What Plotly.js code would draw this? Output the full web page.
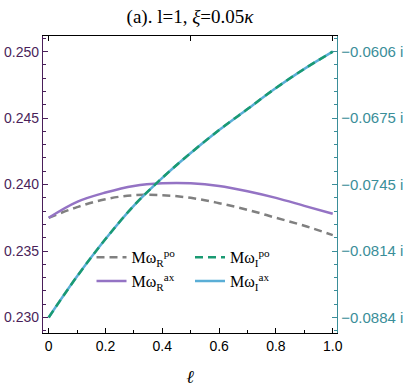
<!DOCTYPE html>
<html>
<head>
<meta charset="utf-8">
<script src="https://cdn.plot.ly/plotly-3.0.1.min.js"></script>
<style>
  html, body { margin: 0; padding: 0; background: #fff; }
  #plot { width: 407px; height: 390px; }
</style>
</head>
<body>
<div id="plot"></div>
<script>
// x values (ell)
var ell = [0, 0.1, 0.2, 0.3, 0.4, 0.5, 0.6, 0.7, 0.8, 0.9, 1.0];

// real parts (left axis)
var rePo = [0.2375, 0.2383, 0.2389, 0.2392, 0.2392, 0.2390, 0.2386, 0.2381, 0.2375, 0.2369, 0.2362];
var reAx = [0.2375, 0.2387, 0.2394, 0.2399, 0.2401, 0.2401, 0.2399, 0.2395, 0.2390, 0.2384, 0.2378];

// imaginary parts (right axis)
var imPo = [-0.0884, -0.0841, -0.0802, -0.0767, -0.0738, -0.0712, -0.0688, -0.0666, -0.0644, -0.0624, -0.0606];
var imAx = [-0.0884, -0.0841, -0.0802, -0.0767, -0.0738, -0.0712, -0.0688, -0.0666, -0.0644, -0.0624, -0.0606];

// tick labels
var xTicks = [0, 0.2, 0.4, 0.6, 0.8, 1.0];
var xTickText = ['0', '0.2', '0.4', '0.6', '0.8', '1.0'];
var leftTicks = [0.230, 0.235, 0.240, 0.245, 0.250];
var leftTickText = ['0.230', '0.235', '0.240', '0.245', '0.250'];
var rightTicks = [-0.0884, -0.08145, -0.0745, -0.06755, -0.0606];
var rightTickText = ['\u22120.0884 i', '\u22120.0814 i', '\u22120.0745 i', '\u22120.0675 i', '\u22120.0606 i'];

var purpleAxis = '#4a1f5a';
var tealAxis = '#3a8e99';
var serif = 'Liberation Serif, Times New Roman, serif';
var sans = 'Liberation Sans, Arial, sans-serif';

var data = [
    {
        x: ell, y: rePo, xaxis: 'x', yaxis: 'y', mode: 'lines', type: 'scatter',
        line: { color: '#808080', width: 2.5, dash: '8px,5px', shape: 'spline' },
        name: 'M\u03c9<sub>R</sub><sup>po</sup>', legend: 'legend'
    },
    {
        x: ell, y: reAx, xaxis: 'x', yaxis: 'y', mode: 'lines', type: 'scatter',
        line: { color: '#9473c4', width: 2.5, shape: 'spline' },
        name: 'M\u03c9<sub>R</sub><sup>ax</sup>', legend: 'legend'
    },
    {
        x: ell, y: imAx, xaxis: 'x', yaxis: 'y2', mode: 'lines', type: 'scatter',
        line: { color: '#5aaed6', width: 2.5, shape: 'spline' },
        name: 'M\u03c9<sub>I</sub><sup>ax</sup>', legend: 'legend2', legendrank: 2
    },
    {
        x: ell, y: imPo, xaxis: 'x', yaxis: 'y2', mode: 'lines', type: 'scatter',
        line: { color: '#1a9a72', width: 2.5, dash: '8px,5px', shape: 'spline' },
        name: 'M\u03c9<sub>I</sub><sup>po</sup>', legend: 'legend2', legendrank: 1
    },
    {
        // carrier for the top frame axis
        x: ell, y: reAx, xaxis: 'x2', yaxis: 'y', mode: 'lines', type: 'scatter',
        line: { color: 'rgba(0,0,0,0)', width: 0 }, showlegend: false, hoverinfo: 'skip'
    }
];

var layout = {
    width: 407,
    height: 390,
    margin: { l: 43, r: 70, t: 36, b: 57 },
    paper_bgcolor: '#fff',
    plot_bgcolor: '#fff',
    showlegend: true,
    title: {
        text: '(a). l=1, <i>\u03be</i>=0.05<i>\u03ba</i>',
        x: 0.5, xref: 'paper', xanchor: 'center',
        y: 0.958, yref: 'container', yanchor: 'middle',
        font: { family: serif, size: 19, color: '#000' }
    },
    xaxis: {
        range: [-0.02, 1.015],
        showline: true, linecolor: '#000', linewidth: 1,
        showgrid: false, zeroline: false,
        ticks: 'inside', ticklen: 5, tickcolor: '#000',
        tickvals: xTicks, ticktext: xTickText,
        tickfont: { family: sans, size: 14, color: '#000' },
        minor: { tick0: 0, dtick: 0.1, ticks: 'inside', ticklen: 3, tickcolor: '#000' },
        title: { text: '<i>\u2113</i>', font: { family: serif, size: 18, color: '#000' }, standoff: 17 }
    },
    xaxis2: {
        overlaying: 'x', side: 'top', anchor: 'y',
        range: [-0.02, 1.015],
        showline: true, linecolor: '#000', linewidth: 1,
        showgrid: false, zeroline: false,
        ticks: 'inside', ticklen: 5, tickcolor: '#000',
        tickvals: [0, 0.5, 1.0], showticklabels: false
    },
    yaxis: {
        range: [0.22883, 0.25118],
        showline: true, linecolor: purpleAxis, linewidth: 1.2,
        showgrid: false, zeroline: false,
        ticks: 'inside', ticklen: 5, tickcolor: purpleAxis,
        tickvals: leftTicks, ticktext: leftTickText,
        tickfont: { family: sans, size: 14, color: purpleAxis },
        minor: { tick0: 0.23, dtick: 0.001, ticks: 'inside', ticklen: 3, tickcolor: purpleAxis }
    },
    yaxis2: {
        overlaying: 'y', side: 'right', anchor: 'x',
        range: [-0.090026, -0.05896],
        showline: true, linecolor: tealAxis, linewidth: 1.2,
        showgrid: false, zeroline: false,
        ticks: 'inside', ticklen: 5, tickcolor: tealAxis,
        tickvals: rightTicks, ticktext: rightTickText,
        tickfont: { family: sans, size: 15, color: tealAxis },
        minor: { tick0: -0.0884, dtick: 0.00139, ticks: 'inside', ticklen: 3, tickcolor: tealAxis }
    },
    legend: {
        x: 0.165, y: 0.312, xanchor: 'left', yanchor: 'top',
        bgcolor: 'rgba(0,0,0,0)', borderwidth: 0,
        font: { family: serif, size: 16, color: '#000' },
        tracegroupgap: 0, itemwidth: 30
    },
    legend2: {
        x: 0.50, y: 0.312, xanchor: 'left', yanchor: 'top',
        bgcolor: 'rgba(0,0,0,0)', borderwidth: 0,
        font: { family: serif, size: 16, color: '#000' },
        tracegroupgap: 0, itemwidth: 30
    }
};

Plotly.newPlot('plot', data, layout, { displayModeBar: false, staticPlot: true });
</script>
</body>
</html>
